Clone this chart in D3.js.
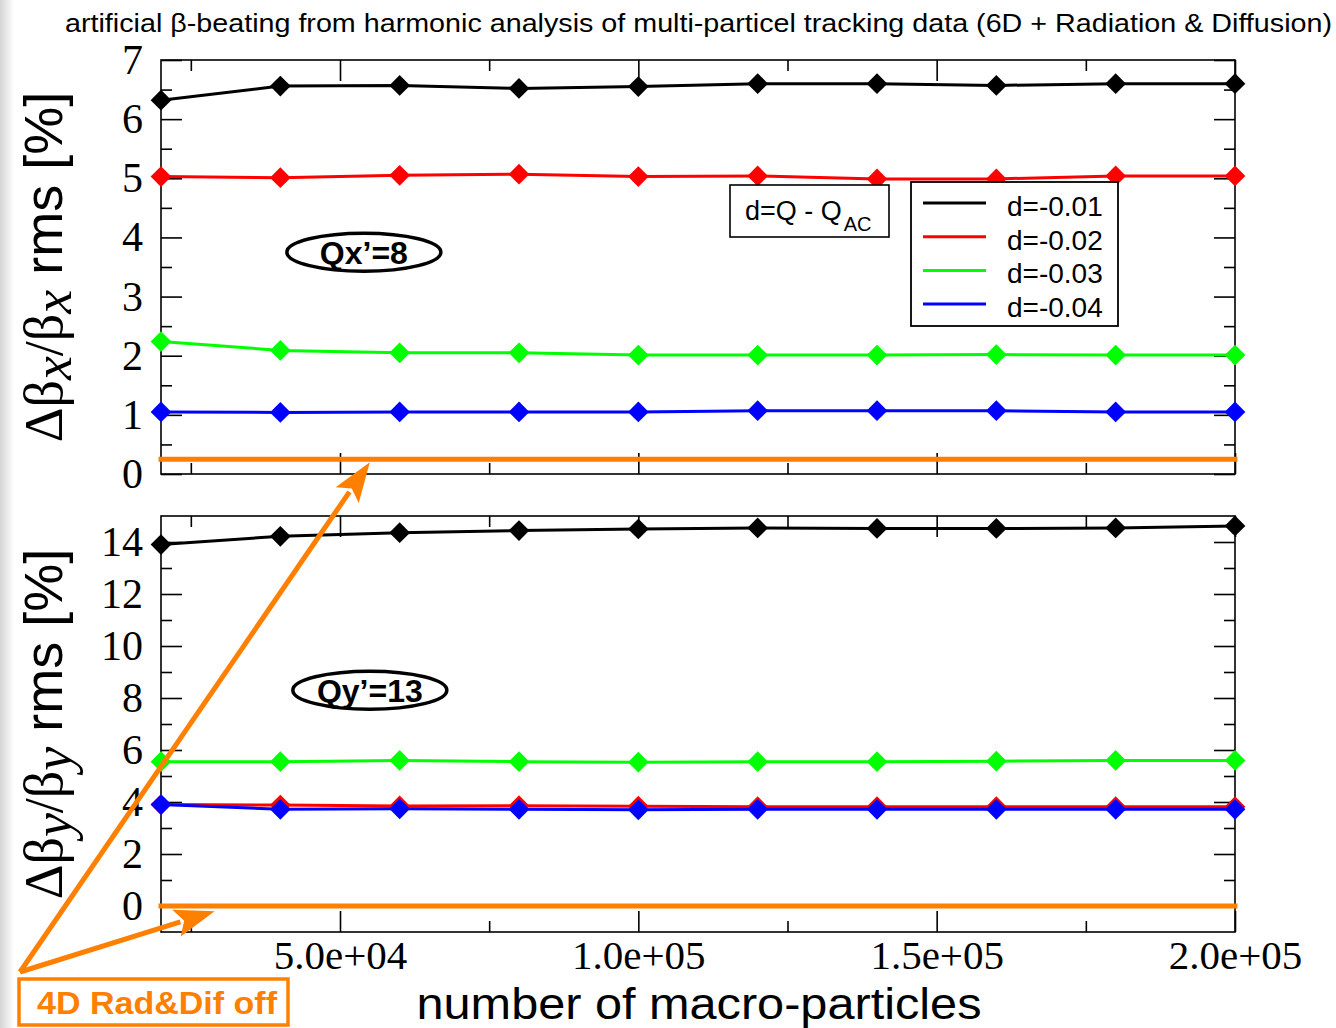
<!DOCTYPE html>
<html>
<head>
<meta charset="utf-8">
<script src="https://cdn.jsdelivr.net/npm/d3@7"></script>
<style>
  body { margin: 0; background: #fff; }
  svg { display: block; }
</style>
</head>
<body>
<svg id="chart"></svg>
<script>
// number of macro-particles
const particles = [20000, 40000, 60000, 80000, 100000, 120000, 140000, 160000, 180000, 200000];

const seriesNames = ['d=-0.01', 'd=-0.02', 'd=-0.03', 'd=-0.04'];
const seriesColors = ['#000000', '#ff0000', '#00ff00', '#0000ff'];

// horizontal beta-beating rms [%], Qx'=8
const betaX001 = [6.32, 6.56, 6.57, 6.52, 6.55, 6.60, 6.60, 6.57, 6.60, 6.60];
const betaX002 = [5.03, 5.01, 5.05, 5.07, 5.03, 5.04, 4.99, 4.99, 5.04, 5.04];
const betaX003 = [2.24, 2.09, 2.05, 2.05, 2.01, 2.01, 2.01, 2.02, 2.01, 2.01];
const betaX004 = [1.05, 1.04, 1.05, 1.05, 1.05, 1.07, 1.07, 1.07, 1.05, 1.05];
const betaXoff = [0.25, 0.25, 0.25, 0.25, 0.25, 0.25, 0.25, 0.25, 0.25, 0.25];

// vertical beta-beating rms [%], Qy'=13
const betaY001 = [13.90, 14.22, 14.36, 14.44, 14.50, 14.54, 14.52, 14.52, 14.54, 14.62];
const betaY002 = [3.90, 3.88, 3.85, 3.86, 3.84, 3.82, 3.82, 3.82, 3.82, 3.82];
const betaY003 = [5.55, 5.55, 5.60, 5.55, 5.53, 5.55, 5.55, 5.57, 5.60, 5.60];
const betaY004 = [3.90, 3.72, 3.74, 3.72, 3.70, 3.72, 3.72, 3.72, 3.72, 3.72];
const betaYoff = [0, 0, 0, 0, 0, 0, 0, 0, 0, 0];

const xMajorTicks = [50000, 100000, 150000, 200000];
const xMinorTicks = [25000, 75000, 125000, 175000];
const xTickLabels = ['5.0e+04', '1.0e+05', '1.5e+05', '2.0e+05'];

const topMajorTicks = [0, 1, 2, 3, 4, 5, 6, 7];
const topMinorTicks = [0.5, 1.5, 2.5, 3.5, 4.5, 5.5, 6.5];
const bottomMajorTicks = [0, 2, 4, 6, 8, 10, 12, 14];
const bottomMinorTicks = [1, 3, 5, 7, 9, 11, 13];

const W = 1336, H = 1028;
const plotLeft = 161, plotRight = 1235;
const majorLen = 21, minorLen = 11;
const offColor = '#ff8000';
const serif = '"Liberation Serif", "Times New Roman", serif';
const sans = '"Liberation Sans", Arial, Helvetica, sans-serif';

const svg = d3.select('#chart')
    .attr('width', W)
    .attr('height', H)
    .attr('viewBox', `0 0 ${W} ${H}`);

// faint slide background: grey strip on the left edge
const defs = svg.append('defs');
const edge = defs.append('linearGradient').attr('id', 'edge-grad');
edge.append('stop').attr('offset', '0%').attr('stop-color', '#d4d4d4');
edge.append('stop').attr('offset', '100%').attr('stop-color', '#ffffff');
svg.append('rect').attr('width', W).attr('height', H).attr('fill', '#fff');
svg.append('rect').attr('x', 0).attr('y', 0).attr('width', 14).attr('height', H)
    .attr('fill', 'url(#edge-grad)');

// title (stretched to the slide width like the original)
svg.append('text')
    .attr('x', 65)
    .attr('y', 32)
    .attr('font-family', sans)
    .attr('font-size', 26)
    .attr('textLength', 1267)
    .attr('lengthAdjust', 'spacingAndGlyphs')
    .attr('fill', '#000')
    .text('artificial β-beating from harmonic analysis of multi-particel tracking data (6D + Radiation & Diffusion)');

const x = d3.scaleLinear().domain([20000, 200000]).range([plotLeft, plotRight]);

const panels = [
    {
        top: 60, bottom: 474, domain: [0, 7],
        majors: topMajorTicks, minors: topMinorTicks,
        series: [betaX001, betaX002, betaX003, betaX004],
        off: betaXoff, sub: 'x', showX: false
    },
    {
        top: 516, bottom: 932, domain: [-1, 15],
        majors: bottomMajorTicks, minors: bottomMinorTicks,
        series: [betaY001, betaY002, betaY003, betaY004],
        off: betaYoff, sub: 'y', showX: true
    }
];

const diamond = d3.symbol().type(d3.symbolSquare).size(215);

panels.forEach(p => {
    p.y = d3.scaleLinear().domain(p.domain).range([p.bottom, p.top]);
    const g = svg.append('g');

    g.append('rect')
        .attr('x', plotLeft).attr('y', p.top)
        .attr('width', plotRight - plotLeft).attr('height', p.bottom - p.top)
        .attr('fill', '#fff');

    // ticks on all four sides, pointing inwards
    const addAxis = (axis, transform) => {
        const a = g.append('g').attr('transform', transform).call(axis);
        a.select('.domain').remove();
        a.selectAll('line').attr('stroke', '#000').attr('stroke-width', 1.6);
        return a;
    };

    const left = addAxis(d3.axisLeft(p.y).tickValues(p.majors).tickSize(-majorLen).tickPadding(18)
        .tickFormat(d3.format('d')), `translate(${plotLeft},0)`);
    left.selectAll('text')
        .attr('font-family', serif)
        .attr('font-size', 42)
        .attr('fill', '#000');
    addAxis(d3.axisLeft(p.y).tickValues(p.minors).tickSize(-minorLen).tickFormat(''),
        `translate(${plotLeft},0)`);
    addAxis(d3.axisRight(p.y).tickValues(p.majors).tickSize(-majorLen).tickFormat(''),
        `translate(${plotRight},0)`);
    addAxis(d3.axisRight(p.y).tickValues(p.minors).tickSize(-minorLen).tickFormat(''),
        `translate(${plotRight},0)`);
    addAxis(d3.axisTop(x).tickValues(xMajorTicks).tickSize(-majorLen).tickFormat(''),
        `translate(0,${p.top})`);
    addAxis(d3.axisTop(x).tickValues(xMinorTicks).tickSize(-minorLen).tickFormat(''),
        `translate(0,${p.top})`);
    const bottomAxis = addAxis(d3.axisBottom(x).tickValues(xMajorTicks).tickSize(-majorLen).tickPadding(8)
        .tickFormat((d, i) => p.showX ? xTickLabels[i] : ''), `translate(0,${p.bottom})`);
    bottomAxis.selectAll('text')
        .attr('font-family', serif)
        .attr('font-size', 41)
        .attr('fill', '#000');
    addAxis(d3.axisBottom(x).tickValues(xMinorTicks).tickSize(-minorLen).tickFormat(''),
        `translate(0,${p.bottom})`);

    g.append('rect')
        .attr('x', plotLeft).attr('y', p.top)
        .attr('width', plotRight - plotLeft).attr('height', p.bottom - p.top)
        .attr('fill', 'none')
        .attr('stroke', '#000')
        .attr('stroke-width', 1.6);

    const line = d3.line().x((d, i) => x(particles[i])).y(d => p.y(d));

    p.series.forEach((vals, k) => {
        g.append('path')
            .datum(vals)
            .attr('d', line)
            .attr('fill', 'none')
            .attr('stroke', seriesColors[k])
            .attr('stroke-width', 3);
        g.selectAll(null)
            .data(vals)
            .join('path')
            .attr('d', diamond)
            .attr('transform', (d, i) => `translate(${x(particles[i])},${p.y(d)}) rotate(45)`)
            .attr('fill', seriesColors[k]);
    });

    // 4D, radiation & diffusion off
    g.append('path')
        .datum(p.off)
        .attr('d', line)
        .attr('fill', 'none')
        .attr('stroke', offColor)
        .attr('stroke-width', 5)
        .attr('stroke-linecap', 'square');

    // y axis title
    const ty = svg.append('text')
        .attr('transform', `translate(62,${(p.top + p.bottom) / 2}) rotate(-90)`)
        .attr('text-anchor', 'middle')
        .attr('font-size', 54)
        .attr('fill', '#000');
    ty.append('tspan').attr('font-family', serif).text('Δβ');
    ty.append('tspan').attr('font-family', serif).attr('font-style', 'italic').attr('dy', 9).text(p.sub);
    ty.append('tspan').attr('font-family', serif).attr('dy', -9).text('/β');
    ty.append('tspan').attr('font-family', serif).attr('font-style', 'italic').attr('dy', 9).text(p.sub);
    ty.append('tspan').attr('font-family', sans).attr('dy', -9).text(' rms [%]');
});

const yTop = panels[0].y, yBottom = panels[1].y;

// chromaticity labels
const tags = [
    { label: 'Qx’=8', cx: x(54000), cy: yTop(3.75) },
    { label: 'Qy’=13', cx: x(55000), cy: yBottom(8.3) }
];
tags.forEach(t => {
    svg.append('ellipse')
        .attr('cx', t.cx).attr('cy', t.cy)
        .attr('rx', 77).attr('ry', 19)
        .attr('fill', 'none')
        .attr('stroke', '#000')
        .attr('stroke-width', 3.5);
    svg.append('text')
        .attr('x', t.cx).attr('y', t.cy)
        .attr('dy', '0.36em')
        .attr('text-anchor', 'middle')
        .attr('font-family', sans)
        .attr('font-weight', 'bold')
        .attr('font-size', 32)
        .text(t.label);
});

// d = Q - Q_AC box
svg.append('rect')
    .attr('x', 730).attr('y', 185).attr('width', 159).attr('height', 52)
    .attr('fill', '#fff').attr('stroke', '#000').attr('stroke-width', 1.6);
const dq = svg.append('text')
    .attr('x', 745).attr('y', 220)
    .attr('font-family', sans)
    .attr('font-size', 27)
    .text('d=Q - Q');
dq.append('tspan').attr('font-size', 20).attr('dx', 2).attr('dy', 11).text('AC');

// legend
const legend = svg.append('g').attr('transform', 'translate(911,182)');
legend.append('rect')
    .attr('width', 207).attr('height', 144)
    .attr('fill', '#fff').attr('stroke', '#000').attr('stroke-width', 1.8);
const rows = legend.selectAll('.row')
    .data(seriesNames)
    .join('g')
    .attr('class', 'row')
    .attr('transform', (d, i) => `translate(0,${21 + i * 33.7})`);
rows.append('line')
    .attr('x1', 12).attr('x2', 75)
    .attr('stroke', (d, i) => seriesColors[i])
    .attr('stroke-width', 3);
rows.append('text')
    .attr('x', 96).attr('y', 3)
    .attr('dy', '0.36em')
    .attr('font-family', sans)
    .attr('font-size', 28)
    .text(d => d);

// x axis title
svg.append('text')
    .attr('x', 699).attr('y', 1019)
    .attr('text-anchor', 'middle')
    .attr('font-family', sans)
    .attr('font-size', 45)
    .attr('textLength', 565)
    .attr('lengthAdjust', 'spacingAndGlyphs')
    .text('number of macro-particles');

// "4D Rad&Dif off" annotation with arrows
const origin = [20, 972];
const tips = [[x(55000), yTop(0.2)], [x(29000), yBottom(-0.2)]];
tips.forEach(t => {
    const dx = t[0] - origin[0], dy = t[1] - origin[1];
    const len = Math.hypot(dx, dy);
    const ux = dx / len, uy = dy / len;
    const headLen = 40, headHalf = 14;
    const bx = t[0] - ux * headLen, by = t[1] - uy * headLen;
    svg.append('line')
        .attr('x1', origin[0]).attr('y1', origin[1])
        .attr('x2', bx + ux * 4).attr('y2', by + uy * 4)
        .attr('stroke', offColor).attr('stroke-width', 5);
    svg.append('path')
        .attr('d', `M${t[0]},${t[1]}L${bx - uy * headHalf},${by + ux * headHalf}L${bx + ux * 8},${by + uy * 8}L${bx + uy * headHalf},${by - ux * headHalf}Z`)
        .attr('fill', offColor);
});
svg.append('rect')
    .attr('x', 19).attr('y', 979).attr('width', 269).attr('height', 46)
    .attr('fill', '#fff').attr('stroke', offColor).attr('stroke-width', 3.5);
svg.append('text')
    .attr('x', 37).attr('y', 1014)
    .attr('font-family', sans)
    .attr('font-weight', 'bold')
    .attr('font-size', 31)
    .attr('textLength', 240)
    .attr('lengthAdjust', 'spacingAndGlyphs')
    .attr('fill', offColor)
    .text('4D Rad&Dif off');
</script>
</body>
</html>
